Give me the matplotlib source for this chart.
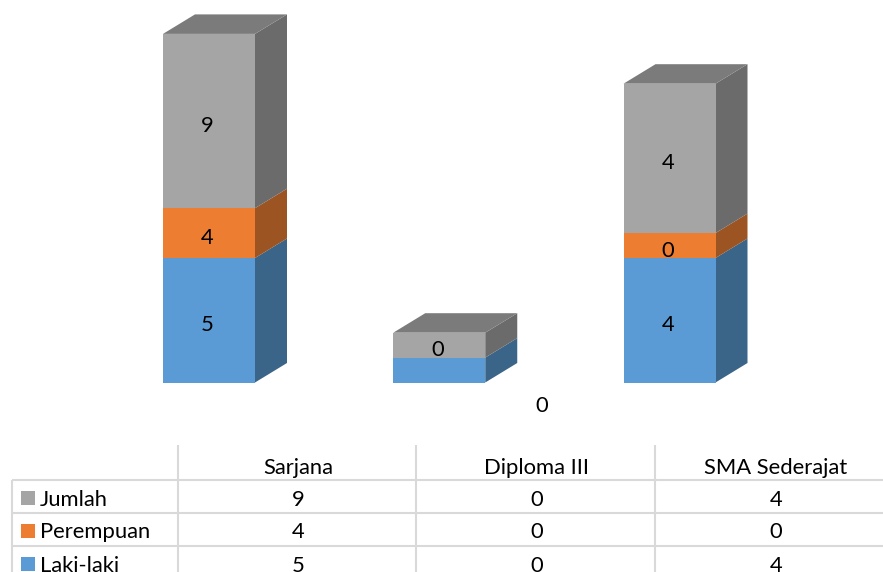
import matplotlib
matplotlib.use("Agg")
import matplotlib.pyplot as plt
from matplotlib.patches import Polygon, Rectangle

plt.rcParams['font.family'] = ['Lato', 'DejaVu Sans']

categories = ["Sarjana", "Diploma III", "SMA Sederajat"]
series_names = ["Laki-laki", "Perempuan", "Jumlah"]

# heights as drawn in the picture
laki_heights = [5, 1, 5]
perempuan_heights = [2, 0, 1]
jumlah_heights = [7, 1, 6]

# values as printed in the labels and the table
laki_labels = [5, 0, 4]
perempuan_labels = [4, 0, 0]
jumlah_labels = [9, 0, 4]

front_colors = ["#5B9BD5", "#ED7D31", "#A5A5A5"]
side_colors = ["#3A6488", "#9C5422", "#6B6B6B"]
top_color = "#7B7B7B"
grid_color = "#D9D9D9"
text_color = "#000000"

W, H = 883, 572
fig = plt.figure(figsize=(W / 100, H / 100), dpi=100, facecolor="white")


def px_axes(left, top, right, bottom):
    return fig.add_axes([left / W, 1 - bottom / H, (right - left) / W, (bottom - top) / H])


# ---- chart: y=0 sits at pixel row 382.5, one unit is 24.9 px, categories 230.25 px apart
ax = px_axes(0, 0, W, 382.5)
unit_x, unit_y = 230.25, 24.9
ax.set_xlim(-209 / unit_x, (W - 209) / unit_x)
ax.set_ylim(0, 382.5 / unit_y)
ax.axis("off")

bar_w = 92 / unit_x
dx, dy = 32 / unit_x, 19.5 / unit_y
font_px = 22
fs = font_px * 0.72
heights = [laki_heights, perempuan_heights, jumlah_heights]
labels = [laki_labels, perempuan_labels, jumlah_labels]
label_drop = 5 / unit_y

for i in range(len(categories)):
    base = 0.0
    xl, xr = i - bar_w / 2, i + bar_w / 2
    for s in range(3):
        h = heights[s][i]
        if h == 0:
            continue
        ax.add_patch(Polygon([(xr, base), (xr + dx, base + dy), (xr + dx, base + h + dy), (xr, base + h)],
                             closed=True, fc=side_colors[s], ec="none", clip_on=False, zorder=2))
        ax.add_patch(Rectangle((xl, base), bar_w, h, fc=front_colors[s], ec="none", clip_on=False, zorder=3))
        if not (i == 1 and s == 0):
            ax.text(i - 0.006, base + h / 2 - label_drop, str(labels[s][i]), ha="center", va="center",
                    fontsize=fs, color=text_color, zorder=5)
        base += h
    ax.add_patch(Polygon([(xl, base), (xr, base), (xr + dx, base + dy), (xl + dx, base + dy)],
                         closed=True, fc=top_color, ec="none", clip_on=False, zorder=4))

# the stray label of the Diploma III column, below the bars
ax.text(1 + 102 / unit_x, -24 / unit_y, str(laki_labels[1]), ha="center", va="center",
        fontsize=fs, color=text_color, clip_on=False, zorder=5)

# ---- data table, drawn in pixel coordinates
tb = px_axes(0, 0, W, H)
tb.set_xlim(0, W)
tb.set_ylim(H, 0)
tb.axis("off")
tb.patch.set_alpha(0)

col_lines = [177.5, 416, 655]
row_lines = [480, 513, 546]
col_centers = [298, 537, 776]
row_centers = [499.5, 532.5, 565.5]
lw = 1.5

for x in col_lines:
    tb.plot([x, x], [445, H], color=grid_color, lw=lw, solid_capstyle="butt")
for y in row_lines:
    tb.plot([12, W], [y, y], color=grid_color, lw=lw, solid_capstyle="butt")
tb.plot([12, 12], [480, H], color=grid_color, lw=lw, solid_capstyle="butt")

for x, c in zip(col_centers, categories):
    tb.text(x, 468.5, c, ha="center", va="center", fontsize=fs, color=text_color)

rows = [2, 1, 0]
for y, s in zip(row_centers, rows):
    tb.add_patch(Rectangle((21, y - 8.5), 14, 14, fc=front_colors[s], ec="none"))
    tb.text(40, y, series_names[s], ha="left", va="center", fontsize=fs, color=text_color)
    for x, v in zip(col_centers, labels[s]):
        tb.text(x, y, str(v), ha="center", va="center", fontsize=fs, color=text_color)

fig.savefig("out.png", dpi=100, facecolor="white")
